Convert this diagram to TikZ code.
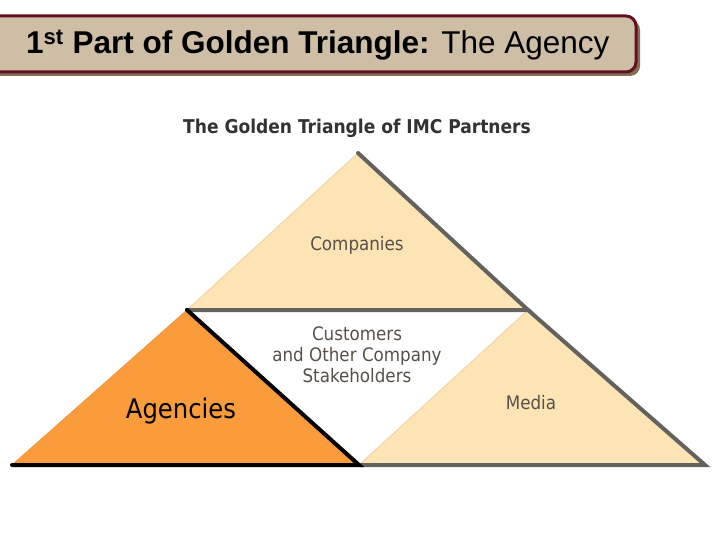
\documentclass[tikz,border=0pt]{standalone}
\usepackage{fontspec}
\setmainfont{Liberation Sans}
\newfontfamily\tah{DejaVu Sans Condensed}
\definecolor{wheatfill}{RGB}{253,228,180}
\definecolor{orangefill}{RGB}{250,155,60}
\definecolor{edgegray}{RGB}{100,98,95}
\definecolor{txtgray}{RGB}{88,80,72}
\definecolor{barfill}{RGB}{205,190,165}
\definecolor{barline}{RGB}{100,15,35}
\definecolor{barshadow}{RGB}{130,110,80}
\tikzset{
  lbl/.style={font=\tah\fontsize{18.6}{21}\selectfont, text=txtgray, align=center, inner sep=0pt},
  edge/.style={draw=edgegray, line width=4pt, line cap=round},
}
\begin{document}
\begin{tikzpicture}[x=1pt,y=-1pt]
\useasboundingbox (0,0) rectangle (720,540);
% title bar
\fill[barshadow, rounded corners=10pt] (-16,20) rectangle (640,76);
\draw[barline, fill=barfill, line width=3pt, rounded corners=10pt] (-20,16) rectangle (636,72);
\node[anchor=west, inner sep=0pt, font=\fontsize{31.5}{34}\selectfont] (title) at (26,45)
  {\textbf{1\textsuperscript{st} Part of Golden Triangle:} The Agency};
% coordinates
\coordinate (topA) at (358,153);
\coordinate (midL) at (187,310);
\coordinate (midR) at (528,310);
\coordinate (botL) at (12,465);
\coordinate (botM) at (359,465);
\coordinate (botR) at (705,465);
% fills
\fill[wheatfill] (topA) -- (midR) -- (midL) -- cycle;
\fill[orangefill] (midL) -- (botM) -- (botL) -- cycle;
\fill[wheatfill] (midR) -- (botR) -- (botM) -- cycle;
% light left edges
\draw[wheatfill!80!brown, line width=0.8pt] (topA) -- (midL);
\draw[orangefill!80!brown, line width=0.8pt] (midL) -- (botL);
\draw[wheatfill!80!brown, line width=0.8pt] (midR) -- (botM);
% dark edges
\draw[edge] (topA) -- (midR) -- (midL);
\draw[edge] (midR) -- (botR) -- (botM);
\draw[black, line width=4pt, line cap=round] (midL) -- (botM) -- (botL);
% labels
\node[font=\tah\bfseries\fontsize{19}{23}\selectfont, text=black!80, inner sep=0pt] (head) at (357,128) {The Golden Triangle of IMC Partners};
\node[lbl] (comp) at (357,245) {Companies};
\node[lbl, align=center] (cust) at (357,355) {Customers\\and Other Company\\Stakeholders};
\node[font=\tah\fontsize{27}{30}\selectfont, text=black, inner sep=0pt] (agen) at (181,411) {Agencies};
\node[lbl] (media) at (531,403) {Media};
\end{tikzpicture}
\end{document}
